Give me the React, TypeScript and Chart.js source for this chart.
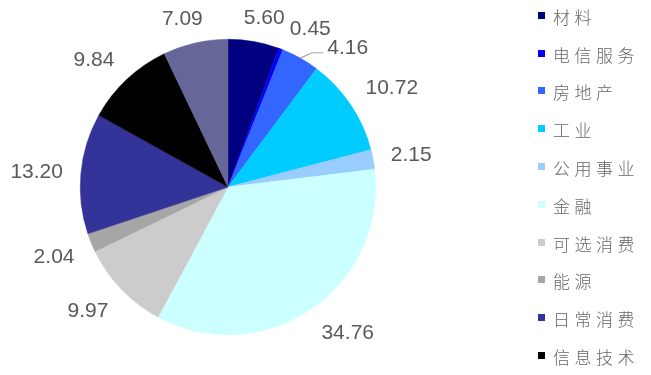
import React, { useEffect, useRef } from "react";
import { Chart, registerables } from "chart.js";

Chart.register(...registerables);

const categories = ["材料", "电信服务", "房地产", "工业", "公用事业", "金融", "可选消费", "能源", "日常消费", "信息技术", "医疗保健"];
const values = [5.6, 0.45, 4.16, 10.72, 2.15, 34.76, 9.97, 2.04, 13.2, 9.84, 7.09];
const colors = ["#000080", "#0000FF", "#3366FF", "#00CCFF", "#99CCFF", "#CCFFFF", "#CCCCCC", "#A6A6A6", "#333399", "#000000", "#666699"];

const LABEL_FONT = '21px "Liberation Sans", Arial, sans-serif';
const LABEL_COLOR = "#595959";

const outLabels = {
  id: "outLabels",
  afterDatasetsDraw(chart: any) {
    const ctx = chart.ctx as CanvasRenderingContext2D;
    const meta = chart.getDatasetMeta(0);
    const data = chart.data.datasets[0].data as number[];
    const OFF = 18;
    const K = 2;
    const HALF_CAP = 7.5;
    const PAD = 2;
    const STEP = (0.5 * Math.PI) / 180;
    const placed: { l: number; r: number; t: number; b: number }[] = [];
    const overlap = (a: any, b: any) => a.l < b.r && b.l < a.r && a.t < b.b && b.t < a.b;
    ctx.save();
    ctx.font = LABEL_FONT;
    meta.data.forEach((arc: any, i: number) => {
      const p = arc.getProps(["x", "y", "startAngle", "endAngle", "outerRadius"], true);
      const mid = (p.startAngle + p.endAngle) / 2;
      const text = data[i].toFixed(2);
      const w = ctx.measureText(text).width;
      const pos = (a: number) => {
        const ux = Math.cos(a);
        const uy = Math.sin(a);
        const r = p.outerRadius + OFF;
        const dx = Math.sign(ux) * (w / 2) * Math.min(1, Math.abs(ux) * K);
        const dy = Math.sign(uy) * HALF_CAP * Math.min(1, Math.abs(uy) * K);
        return { cx: p.x + ux * r + dx, cy: p.y + uy * r + dy };
      };
      let a = mid;
      let q = pos(a);
      let box = { l: 0, r: 0, t: 0, b: 0 };
      for (let k = 0; k < 120; k++) {
        box = { l: q.cx - w / 2 - PAD, r: q.cx + w / 2 + PAD, t: q.cy - HALF_CAP - PAD, b: q.cy + HALF_CAP + PAD };
        if (!placed.some((o) => overlap(o, box))) break;
        a += STEP;
        q = pos(a);
      }
      placed.push(box);
      ctx.fillStyle = LABEL_COLOR;
      ctx.textAlign = "center";
      ctx.textBaseline = "alphabetic";
      ctx.fillText(text, q.cx, q.cy + HALF_CAP);
      if (a - mid > (6 * Math.PI) / 180) {
        const sx = p.x + Math.cos(mid) * p.outerRadius;
        const sy = p.y + Math.sin(mid) * p.outerRadius;
        const right = Math.cos(a) >= 0;
        const ex = right ? q.cx - w / 2 - 4 : q.cx + w / 2 + 4;
        const ey = q.cy + 6;
        const mx = right ? ex - 11 : ex + 11;
        ctx.strokeStyle = "#A6A6A6";
        ctx.lineWidth = 1.2;
        ctx.beginPath();
        ctx.moveTo(sx, sy);
        ctx.lineTo(mx, ey);
        ctx.lineTo(ex, ey);
        ctx.stroke();
      }
    });
    ctx.restore();
  },
};

export default function App() {
  const ref = useRef<HTMLCanvasElement | null>(null);
  useEffect(() => {
    document.body.style.margin = "0";
    const canvas = ref.current!;
    const chart = new Chart(canvas, {
      type: "pie",
      data: {
        labels: categories,
        datasets: [
          {
            data: values,
            backgroundColor: colors,
            borderColor: colors,
            borderWidth: 0.5,
          },
        ],
      },
      options: {
        responsive: false,
        animation: false,
        layout: { padding: { left: 80, right: 275, top: 39, bottom: 40 } },
        plugins: {
          legend: { display: false },
          tooltip: { enabled: false },
        },
      },
      plugins: [outLabels],
    });
    return () => chart.destroy();
  }, []);

  return (
    <div style={{ position: "fixed", left: 0, top: 0, width: 651, height: 375, overflow: "hidden", background: "#fff" }}>
      <canvas ref={ref} width={651} height={375} style={{ width: 651, height: 375, display: "block" }} />
      {categories.map((c, i) => (
        <div
          key={c}
          style={{
            position: "absolute",
            left: 538,
            top: 16.7 + i * 37.8 - 12,
            height: 24,
            display: "flex",
            alignItems: "center",
            whiteSpace: "nowrap",
          }}
        >
          <span style={{ width: 7, height: 7, background: colors[i], display: "inline-block", marginRight: 8, marginTop: -3 }} />
          <span
            style={{
              fontFamily: '"Noto Sans CJK SC", sans-serif',
              fontSize: 17,
              fontWeight: 300,
              letterSpacing: 4.5,
              color: "#666666",
              lineHeight: "24px",
            }}
          >
            {c}
          </span>
        </div>
      ))}
    </div>
  );
}
